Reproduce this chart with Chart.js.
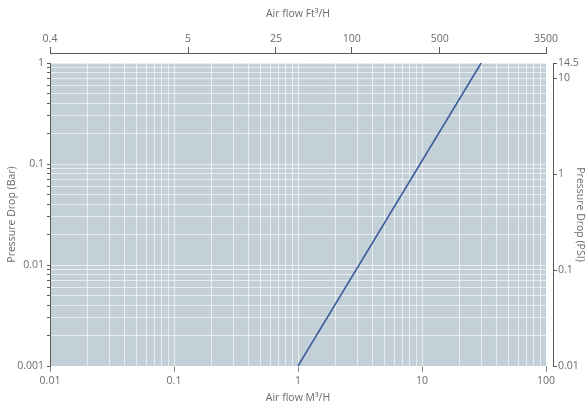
<!DOCTYPE html>
<html>
<head>
<meta charset="utf-8">
<script src="https://cdn.jsdelivr.net/npm/chart.js@4"></script>
<style>
  html, body { margin: 0; padding: 0; background: #fff; }
  #wrap { width: 586px; height: 410px; }
</style>
</head>
<body>
<div id="wrap"><canvas id="flowChart" width="586" height="410"></canvas></div>
<script>
/***** DATA *****/
var flowM3 = [1, 30];            // Air flow M3/H
var dropBar = [0.001, 1];        // Pressure drop (Bar)
var bottomTicks = [0.01, 0.1, 1, 10, 100];
var leftTicks = [0.001, 0.01, 0.1, 1];
var topTicks = [0.4, 5, 25, 100, 500, 3500];   // Air flow Ft3/H
var psiTicks = [0.01, 0.1, 1, 10, 14.5];       // Pressure drop (PSI)

var textColor = '#6b6b6b';
var axisColor = '#5a5a5a';
var gridColor = 'rgba(255,255,255,0.6)';
var font = { family: 'Open Sans', size: 10.5 };
var titleFont = { family: 'Open Sans', size: 10.5 };

// grid at 1..9 of every decade
function decadeTicks(min, max) {
    var out = [];
    for (var e = Math.round(Math.log10(min)); e < Math.round(Math.log10(max)); e++) {
        for (var k = 1; k < 10; k++) {
            out.push({ value: Number((k * Math.pow(10, e)).toPrecision(6)) });
        }
    }
    out.push({ value: max });
    return out;
}
function isIn(list, v) {
    return list.some(function (t) { return Math.abs(t - v) < 1e-9 * Math.max(1, t); });
}

var points = flowM3.map(function (x, i) { return { x: x, y: dropBar[i] }; });

var plotBg = {
    id: 'plotBg',
    beforeDraw: function (chart) {
        var a = chart.chartArea, c = chart.ctx;
        c.save();
        c.fillStyle = '#c4d0d7';
        c.fillRect(a.left, a.top, a.right - a.left, a.bottom - a.top);
        c.restore();
    }
};

var ctx = document.getElementById('flowChart').getContext('2d');
var flowChart = new Chart(ctx, {
    type: 'scatter',
    data: {
        datasets: [{
            data: points,
            showLine: true,
            borderColor: '#3f5c9c',
            borderWidth: 1.6,
            pointRadius: 0,
            xAxisID: 'x',
            yAxisID: 'y'
        }]
    },
    options: {
        responsive: false,
        animation: false,
        layout: { padding: 0 },
        plugins: { legend: { display: false }, tooltip: { enabled: false } },
        scales: {
            x: {
                type: 'logarithmic', position: 'bottom',
                min: 0.01, max: 100,
                afterBuildTicks: function (s) { s.ticks = decadeTicks(0.01, 100); },
                afterFit: function (s) { s.height = 44; },
                border: { display: false },
                grid: {
                    color: gridColor, lineWidth: 1, tickLength: 6,
                    tickColor: function (c) { return c.tick && isIn(bottomTicks, c.tick.value) ? '#888' : 'rgba(0,0,0,0)'; }
                },
                ticks: {
                    autoSkip: false, maxRotation: 0, color: textColor, font: font, padding: 3,
                    callback: function (v) { return isIn(bottomTicks, v) ? String(v) : ''; }
                },
                title: { display: true, text: 'Air flow M³/H', color: textColor, font: titleFont, padding: { top: 2, bottom: 6 } }
            },
            xGap: {
                type: 'linear', position: 'top', weight: 0,
                afterFit: function (s) { s.height = 10; },
                border: { display: false }, grid: { display: false }, ticks: { display: false }
            },
            x2: {
                type: 'logarithmic', position: 'top', weight: 1,
                min: 0.4, max: 3500,
                afterBuildTicks: function (s) { s.ticks = topTicks.map(function (v) { return { value: v }; }); },
                afterFit: function (s) { s.height = 53; },
                border: { display: true, color: axisColor, width: 1 },
                grid: { drawOnChartArea: false, tickLength: 6, tickColor: axisColor },
                ticks: {
                    autoSkip: false, maxRotation: 0, color: textColor, font: font, padding: 2,
                    callback: function (v) { return String(v); }
                },
                title: { display: true, text: 'Air flow Ft³/H', color: textColor, font: titleFont, padding: { top: 8, bottom: 0 } }
            },
            y: {
                type: 'logarithmic', position: 'left',
                min: 0.001, max: 1,
                afterBuildTicks: function (s) { s.ticks = decadeTicks(0.001, 1); },
                afterFit: function (s) { s.width = 50; },
                border: { display: true, color: axisColor, width: 1 },
                grid: { color: gridColor, lineWidth: 1, tickLength: 3, tickColor: axisColor },
                ticks: {
                    autoSkip: false, color: textColor, font: font, padding: 3,
                    callback: function (v) { return isIn(leftTicks, v) ? String(v) : ''; }
                },
                title: { display: true, text: 'Pressure Drop (Bar)', color: textColor, font: titleFont, padding: { top: 6, bottom: 0 } }
            },
            yGap: {
                type: 'linear', position: 'right', weight: 0,
                afterFit: function (s) { s.width = 7; },
                border: { display: false }, grid: { display: false }, ticks: { display: false }
            },
            y2: {
                type: 'logarithmic', position: 'right', weight: 1,
                min: 0.01, max: 14.5,
                afterBuildTicks: function (s) { s.ticks = psiTicks.map(function (v) { return { value: v }; }); },
                afterFit: function (s) { s.width = 33; },
                border: { display: true, color: axisColor, width: 1 },
                grid: { drawOnChartArea: false, tickLength: 4, tickColor: axisColor },
                ticks: {
                    autoSkip: false, color: textColor, font: font, padding: 1,
                    callback: function (v) { return String(v); }
                },
                title: { display: true, text: 'Pressure Drop (PSI)', color: textColor, font: titleFont, padding: { top: 0, bottom: 2 } }
            }
        }
    },
    plugins: [plotBg]
});
</script>
</body>
</html>
